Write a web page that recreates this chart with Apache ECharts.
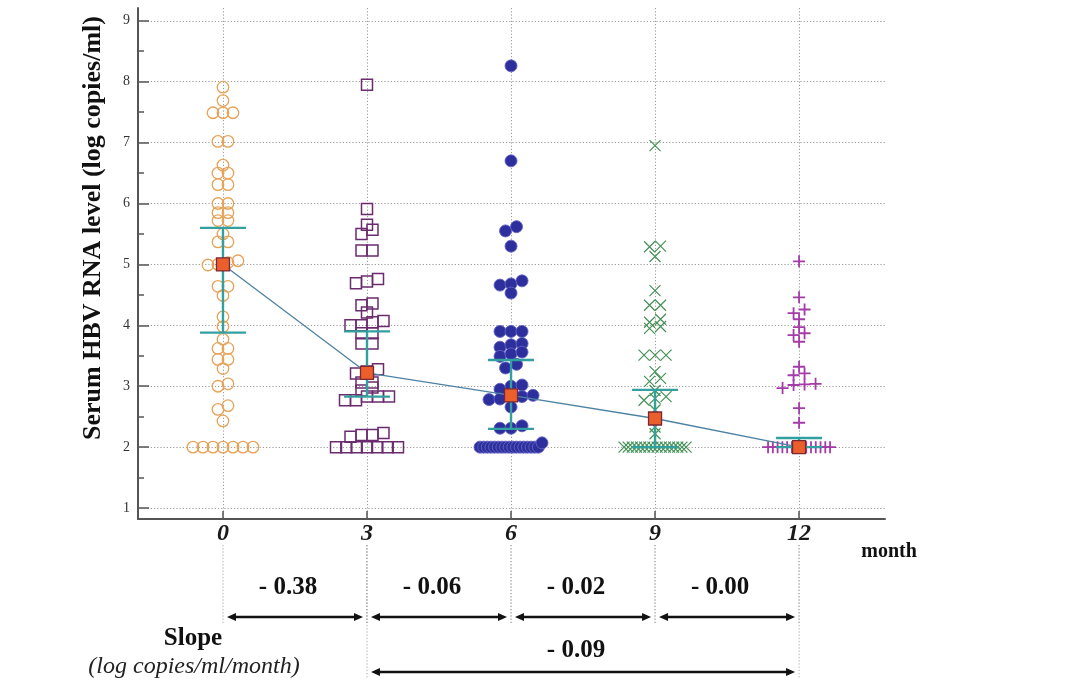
<!DOCTYPE html>
<html>
<head>
<meta charset="utf-8">
<script src="https://cdn.jsdelivr.net/npm/echarts@6/dist/echarts.min.js"></script>
<style>html,body{margin:0;padding:0;background:#fff}#c{width:1075px;height:690px}</style>
</head>
<body>
<div id="c"></div>
<script>
// ---------------- data ----------------
const months = [0, 3, 6, 9, 12];
const yTickValues = [1, 2, 3, 4, 5, 6, 7, 8, 9];
const yMinorTickValues = [1.5, 2.5, 3.5, 4.5, 5.5, 6.5, 7.5, 8.5];

const month0 = [7.91, 7.69, 7.49, 7.49, 7.49, 7.02, 7.02, 6.63, 6.50, 6.50, 6.31, 6.31, 6.00, 6.00,
  5.85, 5.85, 5.72, 5.72, 5.50, 5.37, 5.37, 5.06, 5.03, 5.00, 4.99, 4.64, 4.64, 4.49, 4.14, 3.98,
  3.77, 3.62, 3.62, 3.44, 3.44, 3.29, 3.04, 3.00, 2.68, 2.62, 2.43, 2, 2, 2, 2, 2, 2, 2];
const month3 = [7.95, 5.91, 5.65, 5.57, 5.50, 5.23, 5.23, 4.76, 4.72, 4.69, 4.36, 4.33, 4.21, 4.07,
  4.05, 4.00, 4.00, 3.87, 3.87, 3.70, 3.70, 3.28, 3.24, 3.21, 3.06, 3.06, 2.98, 2.93, 2.83, 2.83,
  2.83, 2.77, 2.77, 2.23, 2.20, 2.20, 2.17, 2, 2, 2, 2, 2, 2, 2];
const month6 = [8.26, 6.70, 5.62, 5.55, 5.30, 4.73, 4.68, 4.66, 4.53, 3.90, 3.90, 3.90, 3.70, 3.68,
  3.64, 3.56, 3.53, 3.49, 3.36, 3.30, 3.02, 3.00, 2.95, 2.85, 2.83, 2.82, 2.79, 2.78, 2.66, 2.35,
  2.31, 2.31, 2.07, 2, 2, 2, 2, 2, 2, 2, 2, 2, 2, 2, 2, 2, 2, 2, 2, 2];
const month9 = [6.95, 5.30, 5.29, 5.13, 4.57, 4.33, 4.33, 4.10, 4.05, 3.98, 3.95, 3.51, 3.51, 3.51,
  3.24, 3.13, 3.08, 2.93, 2.83, 2.80, 2.77, 2.61, 2.33, 2.22, 2, 2, 2, 2, 2, 2, 2, 2, 2, 2, 2, 2,
  2, 2, 2, 2];
const month12 = [5.05, 4.46, 4.26, 4.20, 4.10, 3.97, 3.87, 3.84, 3.73, 3.32, 3.21, 3.18, 3.04, 3.03,
  3.02, 2.97, 2.64, 2.40, 2, 2, 2, 2, 2, 2, 2, 2, 2, 2, 2, 2, 2, 2];

const centerValues = [5.00, 3.22, 2.85, 2.47, 2.00];
const barHigh = [5.60, 3.90, 3.43, 2.94, 2.15];
const barLow = [3.88, 2.83, 2.30, 2.00, 2.00];

const slopeFrom = [0, 3, 6, 9, 3];
const slopeTo = [3, 6, 9, 12, 12];
const slopeValues = [-0.38, -0.06, -0.02, -0.00, -0.09];
const slopeRow = [0, 0, 0, 0, 1];

// ---------------- styles ----------------
const SERIF = '"Liberation Serif", "Times New Roman", serif';
const groups = [month0, month3, month6, month9, month12];
const groupStyles = [
  { symbol: 'circle', size: 11.5, color: 'rgba(0,0,0,0)', border: '#e6a257', bw: 1.3, step: 10 },
  { symbol: 'rect', size: 11, color: 'rgba(0,0,0,0)', border: '#6b2b6e', bw: 1.5, step: 11 },
  { symbol: 'circle', size: 12, color: '#2c2f9c', border: '#6262c4', bw: 0.9, step: 11 },
  { symbol: 'path://M0,0L10,10M10,0L0,10', size: 11, color: 'rgba(0,0,0,0)', border: '#459157', bw: 1.2, step: 11 },
  { symbol: 'path://M5,0L5,10M0,5L10,5', size: 12, color: 'rgba(0,0,0,0)', border: '#a53aa9', bw: 1.8, step: 11 }
];
const X_MIN = -1.77, X_MAX = 13.79, Y_MIN = 0.82, Y_MAX = 9.21;
const BIN_TOL = 0.075 + 1e-9;
const ROW_MAX_W = 62;
const gridLine = { color: '#9c9c9c', type: [1.2, 2], width: 1 };
const axisCol = '#555';

const chart = echarts.init(document.getElementById('c'));

const option = {
  animation: false,
  backgroundColor: '#ffffff',
  grid: [
    { left: 138, right: 190, top: 8, bottom: 171, outerBoundsMode: 'none' },
    { left: 138, right: 190, top: 562, height: 110, outerBoundsMode: 'none' }
  ],
  xAxis: [
    {
      type: 'value', gridIndex: 0, min: X_MIN, max: X_MAX,
      axisLine: { show: true, onZero: false, lineStyle: { color: axisCol, width: 2 } },
      axisTick: { show: true, inside: true, length: 8, customValues: months, lineStyle: { color: axisCol, width: 1.5 } },
      axisLabel: { customValues: months, margin: 3, fontFamily: SERIF, fontSize: 24, fontWeight: 'bold', fontStyle: 'italic', color: '#1a1a1a' },
      splitLine: { show: true, lineStyle: gridLine }
    },
    { type: 'value', gridIndex: 1, min: X_MIN, max: X_MAX, show: false }
  ],
  yAxis: [
    {
      type: 'value', gridIndex: 0, min: Y_MIN, max: Y_MAX,
      axisLine: { show: true, onZero: false, lineStyle: { color: axisCol, width: 2 } },
      axisTick: { show: true, inside: true, length: 11, customValues: yTickValues, lineStyle: { color: axisCol, width: 1.5 } },
      axisLabel: { customValues: yTickValues, margin: 8, fontFamily: SERIF, fontSize: 14, color: '#333' },
      splitLine: { show: true, lineStyle: gridLine }
    },
    {
      type: 'value', gridIndex: 0, position: 'left', offset: 0, min: Y_MIN, max: Y_MAX,
      axisLine: { show: false, onZero: false },
      axisTick: { show: true, inside: true, length: 6, customValues: yMinorTickValues, lineStyle: { color: axisCol, width: 1.5 } },
      axisLabel: { show: false },
      splitLine: { show: false }
    },
    { type: 'value', gridIndex: 1, min: -1, max: 1, inverse: true, show: false }
  ],
  graphic: [
    { type: 'text', x: 93, y: 228, rotation: Math.PI / 2,
      style: { text: 'Serum HBV RNA level (log copies/ml)', font: 'bold 26px ' + SERIF, fill: '#111', align: 'center', verticalAlign: 'middle' } },
    { type: 'text', x: 889, y: 552,
      style: { text: 'month', font: 'bold 20px ' + SERIF, fill: '#111', align: 'center', verticalAlign: 'middle' } },
    { type: 'text', x: 193, y: 639,
      style: { text: 'Slope', font: 'bold 25px ' + SERIF, fill: '#111', align: 'center', verticalAlign: 'middle' } },
    { type: 'text', x: 194, y: 667,
      style: { text: '(log copies/ml/month)', font: 'italic 24px ' + SERIF, fill: '#222', align: 'center', verticalAlign: 'middle' } }
  ],
  series: []
};

// scatter series (data filled after layout)
groups.forEach((g, i) => {
  const s = groupStyles[i];
  option.series.push({
    id: 'g' + i, type: 'scatter', xAxisIndex: 0, yAxisIndex: 0, z: 2, silent: true,
    symbol: s.symbol, symbolSize: s.size,
    itemStyle: { color: s.color, borderColor: s.border, borderWidth: s.bw, opacity: 1 },
    data: []
  });
});

// error bars
option.series.push({
  type: 'custom', xAxisIndex: 0, yAxisIndex: 0, z: 4, silent: true,
  data: months.map((m, i) => [m, barLow[i], barHigh[i]]),
  renderItem: function (params, api) {
    const x = api.value(0);
    const lo = api.coord([x, api.value(1)]);
    const hi = api.coord([x, api.value(2)]);
    const w = 23;
    const st = { stroke: '#33a0a0', lineWidth: 2.4 };
    return { type: 'group', children: [
      { type: 'line', shape: { x1: lo[0], y1: lo[1], x2: hi[0], y2: hi[1] }, style: st },
      { type: 'line', shape: { x1: hi[0] - w, y1: hi[1], x2: hi[0] + w, y2: hi[1] }, style: st },
      { type: 'line', shape: { x1: lo[0] - w, y1: lo[1], x2: lo[0] + w, y2: lo[1] }, style: st }
    ] };
  }
});

// centre line + squares
option.series.push({
  type: 'line', xAxisIndex: 0, yAxisIndex: 0, z: 5, silent: true,
  data: months.map((m, i) => [m, centerValues[i]]),
  symbol: 'rect', symbolSize: 13, showAllSymbol: true,
  itemStyle: { color: '#ea5f2c', borderColor: '#7d2735', borderWidth: 1.3 },
  lineStyle: { color: '#4d82a3', width: 1.3 }
});

// slope annotations
const labelGap = [29, 21];
option.series.push({
  type: 'custom', xAxisIndex: 1, yAxisIndex: 2, z: 3, silent: true,
  data: slopeFrom.map((f, i) => [f, slopeTo[i], slopeRow[i], slopeValues[i]]),
  renderItem: function (params, api) {
    const row = api.value(2);
    const a = api.coord([api.value(0), row]);
    const b = api.coord([api.value(1), row]);
    const y = a[1];
    const inset = 4, head = 9, hw = 4;
    const x0 = a[0] + inset, x1 = b[0] - inset;
    const guideTop = params.coordSys.y - 17;
    const v = api.value(3);
    const txt = '- ' + Math.abs(v).toFixed(2);
    const guide = { stroke: '#a8a8a8', lineWidth: 1, lineDash: [1.2, 2] };
    return { type: 'group', children: [
      { type: 'line', shape: { x1: a[0], y1: guideTop, x2: a[0], y2: y + 7 }, style: guide },
      { type: 'line', shape: { x1: b[0], y1: guideTop, x2: b[0], y2: y + 7 }, style: guide },
      { type: 'line', shape: { x1: x0 + head - 2, y1: y, x2: x1 - head + 2, y2: y }, style: { stroke: '#111', lineWidth: 2.6 } },
      { type: 'polygon', shape: { points: [[x0, y], [x0 + head, y - hw], [x0 + head, y + hw]] }, style: { fill: '#111' } },
      { type: 'polygon', shape: { points: [[x1, y], [x1 - head, y - hw], [x1 - head, y + hw]] }, style: { fill: '#111' } },
      { type: 'text', x: (a[0] + b[0]) / 2 - 7, y: y - labelGap[row],
        style: { text: txt, font: 'bold 25px ' + SERIF, fill: '#111', align: 'center', verticalAlign: 'middle' } }
    ] };
  }
});

chart.setOption(option);

// ---------------- dot-plot (beeswarm) layout through the axis scale ----------------
const pA = chart.convertToPixel({ gridIndex: 0 }, [0, 2]);
const pB = chart.convertToPixel({ gridIndex: 0 }, [1, 2]);
const pxPerX = pB[0] - pA[0];

function dotLayout(values, month, step) {
  const sorted = values.slice().sort((p, q) => q - p);
  const bins = [];
  let cur = null;
  sorted.forEach(v => {
    if (cur && cur[0] - v <= BIN_TOL) cur.push(v);
    else { cur = [v]; bins.push(cur); }
  });
  const out = [];
  bins.forEach(bin => {
    const asc = bin.slice().sort((p, q) => p - q);
    const n = asc.length;
    const st = n > 1 ? Math.min(step, ROW_MAX_W / (n - 1)) : 0;
    asc.forEach((v, k) => {
      const dx = (k - (n - 1) / 2) * st;
      out.push([month + dx / pxPerX, v]);
    });
  });
  return out;
}

chart.setOption({
  series: groups.map((g, i) => ({ id: 'g' + i, data: dotLayout(g, months[i], groupStyles[i].step) }))
});
</script>
</body>
</html>
